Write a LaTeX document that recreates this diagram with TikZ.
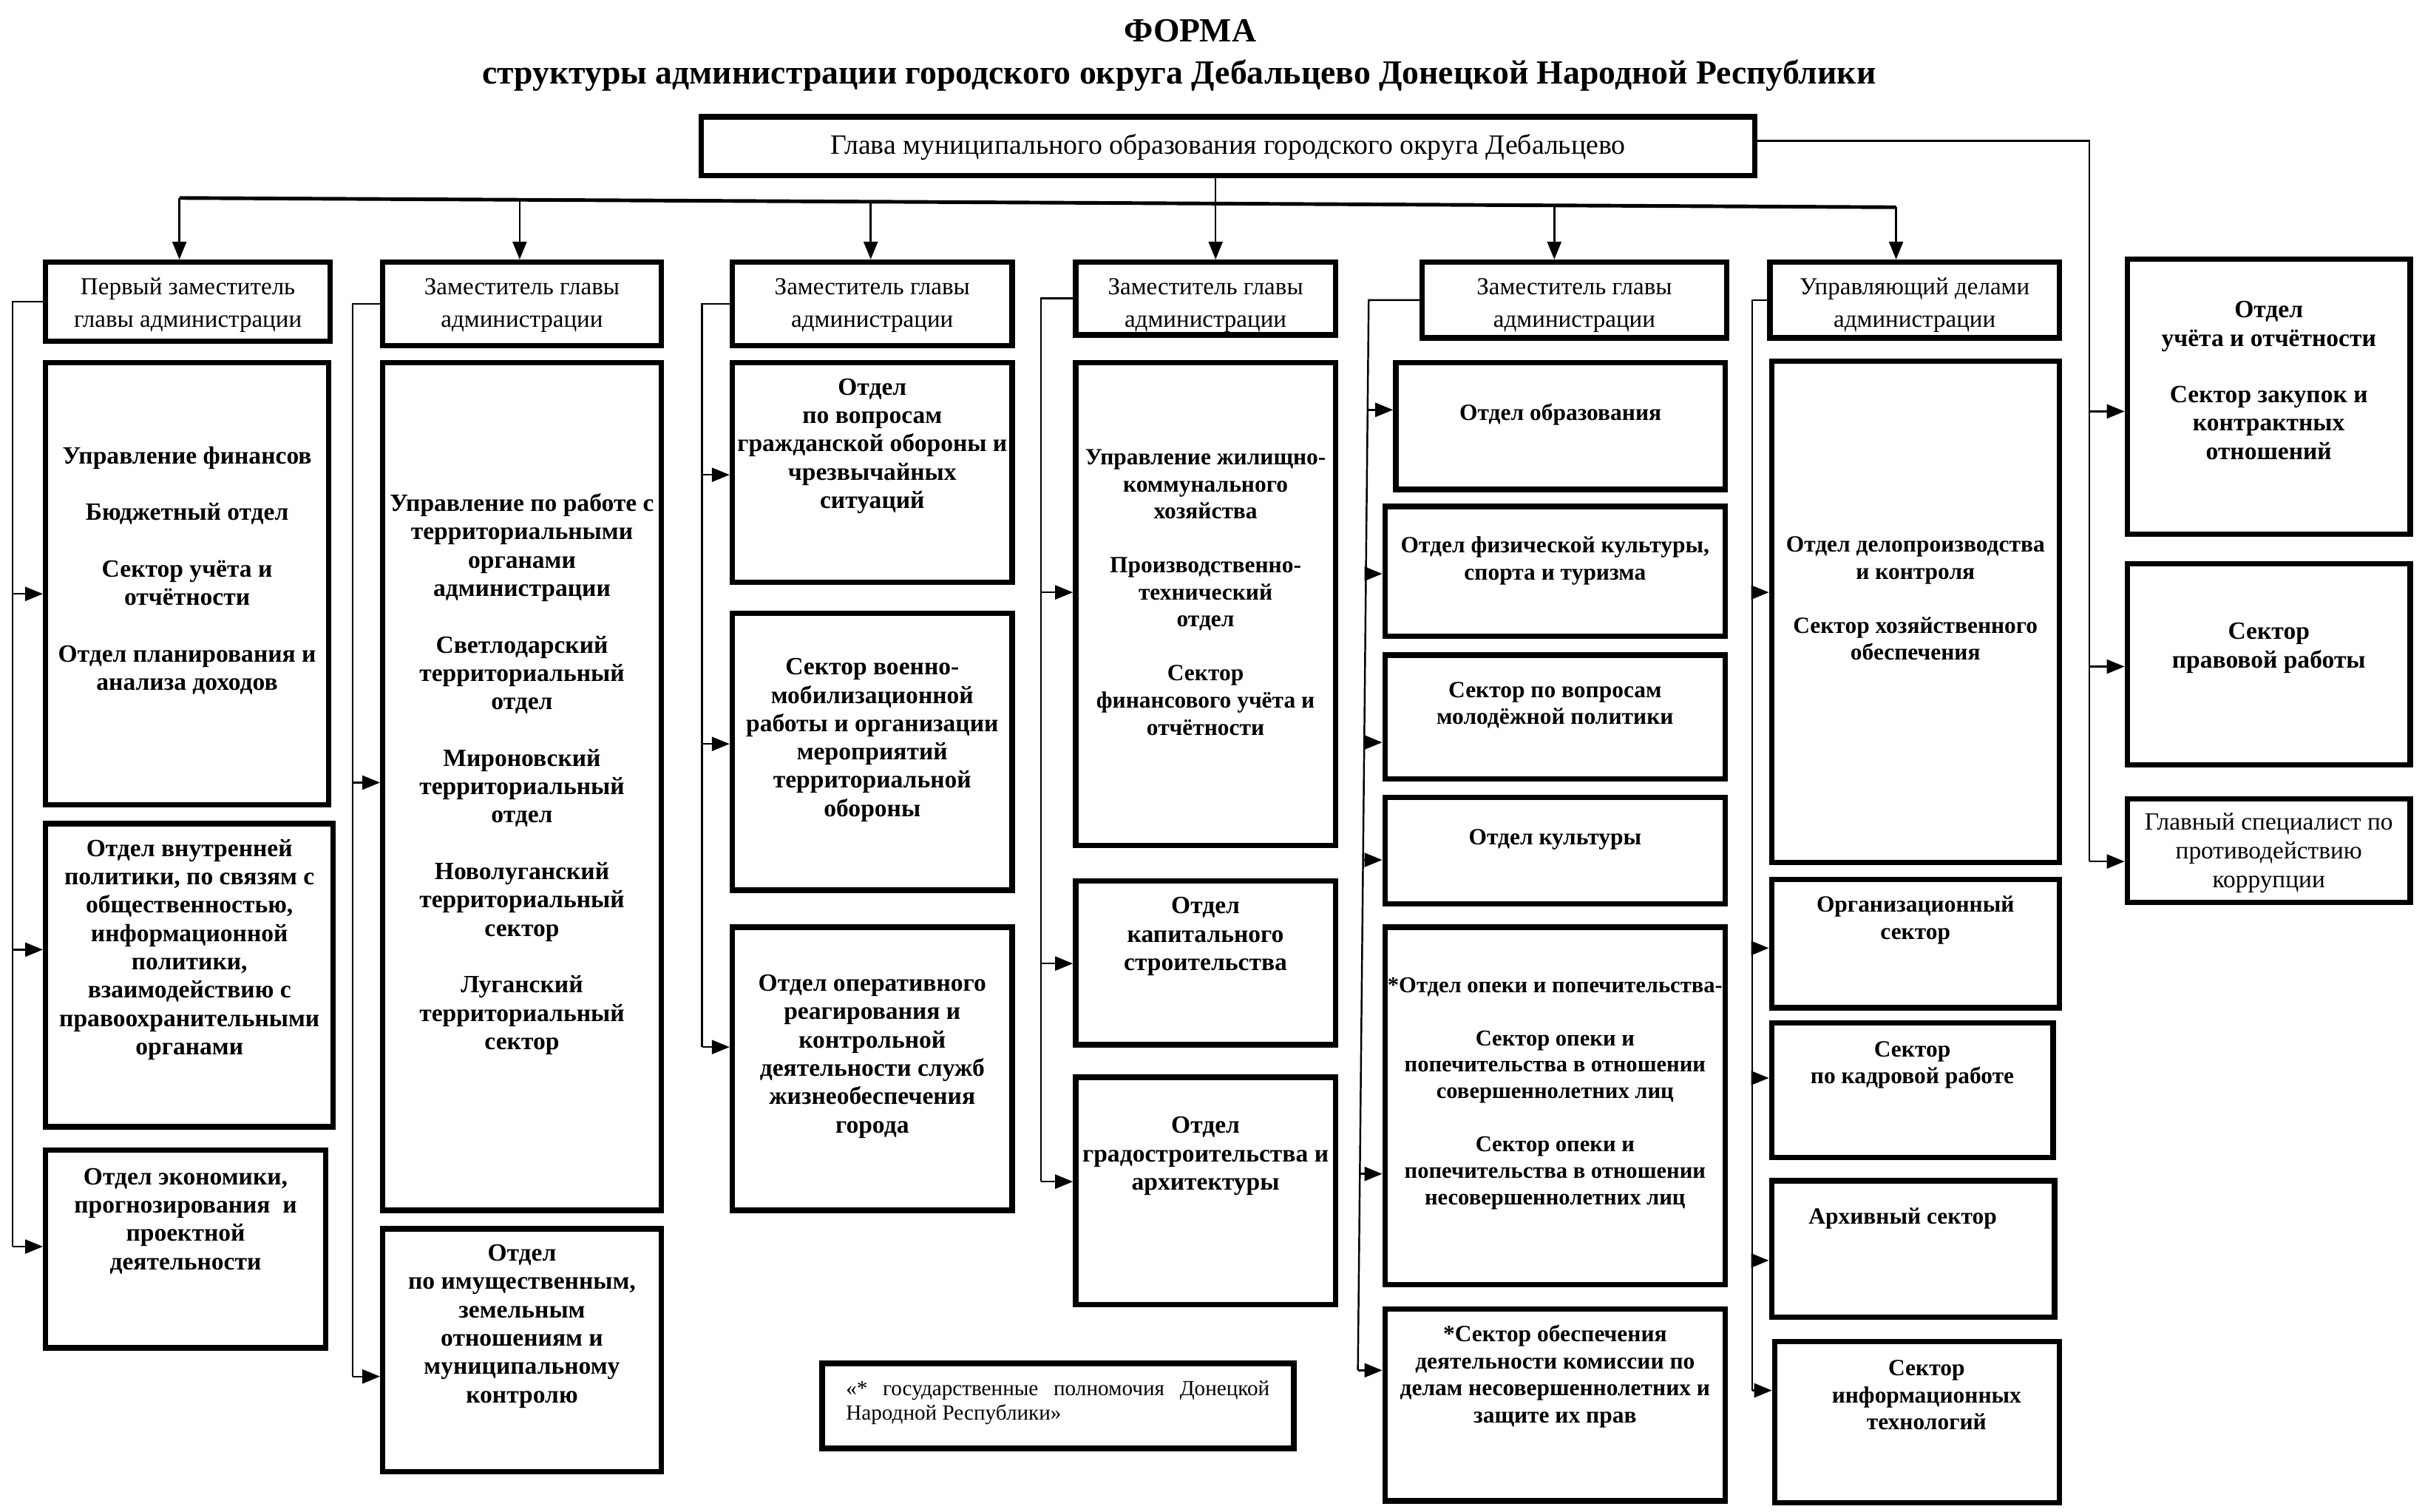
\documentclass[tikz,border=0pt]{standalone}
\usepackage{fontspec}
\setmainfont{Liberation Serif}
\usetikzlibrary{arrows.meta}
\tikzset{
  x=0.20918mm, y=-0.20918mm,
  box/.style={draw=black, line width=2.1pt, rectangle, inner sep=0pt},
  btext/.style={align=center, inner sep=0pt, font=\fontsize{9.55}{10.9}\selectfont\bfseries},
  ctext/.style={align=center, inner sep=0pt, font=\fontsize{8.95}{10.4}\selectfont\bfseries},
  dtext/.style={align=center, inner sep=0pt, font=\fontsize{8.7}{10.2}\selectfont\bfseries},
  htext/.style={align=center, inner sep=0pt, font=\fontsize{9.4}{12.5}\selectfont},
  gtext/.style={align=center, inner sep=0pt, font=\fontsize{10.75}{12.5}\selectfont},
  rtext/.style={align=center, inner sep=0pt, font=\fontsize{9.5}{11.2}\selectfont},
  ftext/.style={align=justify, inner sep=0pt, text width=57.3mm, font=\fontsize{8.3}{9.5}\selectfont},
  ttext/.style={inner sep=0pt, font=\fontsize{13}{16}\selectfont\bfseries},
  conn/.style={line width=0.7pt},
  busline/.style={line width=1.4pt},
  arr/.style={line width=0.7pt, -{Triangle[length=2.4mm,width=1.9mm]}},
}
\newcommand\orgbox[8][btext]{%
  \pgfmathsetmacro\obw{(#5-#3-3)*0.20918}%
  \pgfmathsetmacro\obh{(#6-#4-3)*0.20918}%
  \node[box, minimum width=\obw mm, minimum height=\obh mm] (#2) at ({(#3+#5)/2},{(#4+#6)/2}) {};
  \node[#1] (#2t) at ({(#3+#5)/2},#7) {#8};
}
\newcommand\feed[3]{%
  \coordinate (f#1) at (#2,#3);
  \draw[arr] (f#1) -- (f#1 -| #1.west);
}
\newcommand\gap{\\[10.9pt]}
\newcommand\gapc{\\[10.4pt]}
\newcommand\gapd{\\[10.2pt]}
\begin{document}
\begin{tikzpicture}
\fill[white] (0,0) rectangle (1568,977.6);
\useasboundingbox (0,0) rectangle (1568,977.6);

% title
\node[ttext] (title1) at (769.5,20) {ФОРМА};
\node[ttext] (title2) at (762.5,49) {структуры администрации городского округа Дебальцево Донецкой Народной Республики};

% head
\orgbox[gtext]{head}{452}{74}{1136}{115}{95}{Глава муниципального образования городского округа Дебальцево}

% deputies
\orgbox[htext]{H1}{28}{168}{215}{222}{197.5}{Первый заместитель\\главы администрации}
\orgbox[htext]{H2}{246}{168}{429}{225}{197.5}{Заместитель главы\\администрации}
\orgbox[htext]{H3}{472}{168}{656}{225}{197.5}{Заместитель главы\\администрации}
\orgbox[htext]{H4}{694}{168}{865}{218}{197.5}{Заместитель главы\\администрации}
\orgbox[htext]{H5}{918}{168}{1118}{220}{197.5}{Заместитель главы\\администрации}
\orgbox[htext]{H6}{1143}{168}{1333}{220}{197.5}{Управляющий делами\\администрации}

% column 1
\orgbox{B1a}{28}{233}{214}{522}{369}{Управление финансов\gap Бюджетный отдел\gap Сектор учёта и\\отчётности\gap Отдел планирования и\\анализа доходов}
\orgbox{B1b}{28}{531}{217}{730}{614}{Отдел внутренней\\политики, по связям с\\общественностью,\\информационной\\политики,\\взаимодействию с\\правоохранительными\\органами}
\orgbox{B1c}{28}{742}{212}{873}{789.5}{Отдел экономики,\\прогнозирования\ \ и\\проектной\\деятельности}

% column 2
\orgbox{B2a}{246}{233}{429}{784}{500.5}{Управление по работе с\\территориальными\\органами\\администрации\gap Светлодарский\\территориальный\\отдел\gap Мироновский\\территориальный\\отдел\gap Новолуганский\\территориальный\\сектор\gap Луганский\\территориальный\\сектор}
\orgbox{B2b}{246}{793}{429}{953}{857.5}{Отдел\\по имущественным,\\земельным\\отношениям и\\муниципальному\\контролю}

% column 3
\orgbox{B3a}{472}{233}{656}{378}{288.5}{Отдел\\по вопросам\\гражданской обороны и\\чрезвычайных\\ситуаций}
\orgbox{B3b}{472}{395}{656}{577}{478.5}{Сектор военно-\\мобилизационной\\работы и организации\\мероприятий\\территориальной\\обороны}
\orgbox{B3c}{472}{598}{656}{784}{683}{Отдел оперативного\\реагирования и\\контрольной\\деятельности служб\\жизнеобеспечения\\города}
\orgbox[ftext]{foot}{530}{880}{838}{938}{907}{«* государственные полномочия Донецкой\linebreak Народной Республики»}

% column 4
\orgbox[ctext]{B4a}{694}{233}{865}{548}{383}{Управление жилищно-\\коммунального\\хозяйства\gapc Производственно-\\технический\\отдел\gapc Сектор\\финансового учёта и\\отчётности}
\orgbox{B4b}{694}{568}{865}{677}{605.5}{Отдел\\капитального\\строительства}
\orgbox{B4c}{694}{695}{865}{845}{747.5}{Отдел\\градостроительства и\\архитектуры}

% column 5
\orgbox[ctext]{B5a}{901}{233}{1117}{318}{268}{Отдел образования}
\orgbox[ctext]{B5b}{894}{326}{1117}{413}{362.5}{Отдел физической культуры,\\спорта и туризма}
\orgbox[ctext]{B5c}{894}{422}{1117}{505}{456}{Сектор по вопросам\\молодёжной политики}
\orgbox[ctext]{B5d}{894}{514}{1117}{586}{543}{Отдел культуры}
\orgbox[dtext]{B5e}{894}{598}{1117}{832}{707}{*Отдел опеки и попечительства-\gapd Сектор опеки и\\попечительства в отношении\\совершеннолетних лиц\gapd Сектор опеки и\\попечительства в отношении\\несовершеннолетних лиц}
\orgbox[ctext]{B5f}{894}{845}{1117}{972}{890}{*Сектор обеспечения\\деятельности комиссии по\\делам несовершеннолетних и\\защите их прав}

% column 6
\orgbox[ctext]{B6a}{1144}{232}{1333}{559}{387}{Отдел делопроизводства\\и контроля\gapc Сектор хозяйственного\\обеспечения}
\orgbox[ctext]{B6b}{1144}{567}{1333}{653}{595}{Организационный\\сектор}
\orgbox[ctext]{B6c}{1144}{660}{1329}{750}{688.5}{Сектор\\по кадровой работе}
\orgbox[ctext,xshift=-1.4mm]{B6d}{1144}{762}{1330}{853}{788}{Архивный сектор}
\orgbox[ctext,xshift=1.3mm]{B6e}{1146}{866}{1333}{973}{902}{Сектор\\информационных\\технологий}

% right column
\orgbox{R1}{1374}{166}{1560}{347}{246}{Отдел\\учёта и отчётности\gap Сектор закупок и\\контрактных\\отношений}
\orgbox{R2}{1374}{363}{1560}{496}{419}{Сектор\\правовой работы}
\orgbox[rtext]{R3}{1374}{515}{1560}{585}{551.5}{Главный специалист по\\противодействию\\коррупции}

% top bus
\coordinate (d1) at (116,128);
\coordinate (d2) at (336,129.2);
\coordinate (d3) at (563,130.4);
\coordinate (d4) at (786,131.6);
\coordinate (d5) at (1005,132.8);
\coordinate (d6) at (1226,134);
\draw[busline] (d1) -- (d6);
\draw[arr] (d4 |- head.south) -- (d4 |- H4.north);
\draw[arr] (d1) -- (d1 |- H1.north);
\draw[arr] (d2) -- (d2 |- H2.north);
\draw[arr] (d3) -- (d3 |- H3.north);
\draw[arr] (d5) -- (d5 |- H5.north);
\draw[arr] (d6) -- (d6 |- H6.north);

% right branch
\coordinate (r0) at (1351,91);
\feed{R1}{1351}{266}
\feed{R2}{1351}{431}
\feed{R3}{1351}{557}
\draw[conn] (r0 -| head.east) -- (r0) -- (fR3);

% column 1 branch
\feed{B1a}{8}{384}
\feed{B1b}{8}{614}
\feed{B1c}{8}{806}
\draw[conn] (H1.west) -- (H1.west -| fB1a) -- (fB1c);

% column 2 branch
\feed{B2a}{228}{506}
\feed{B2b}{228}{890}
\draw[conn] (H2.west) -- (H2.west -| fB2a) -- (fB2b);

% column 3 branch
\feed{B3a}{454}{307}
\feed{B3b}{454}{481}
\feed{B3c}{454}{677}
\draw[conn] (H3.west) -- (H3.west -| fB3a) -- (fB3c);

% column 4 branch
\feed{B4a}{673}{383}
\feed{B4b}{673}{623}
\feed{B4c}{673}{764}
\draw[conn] (H4.west) -- (H4.west -| fB4a) -- (fB4c);

% column 5 branch (slightly slanted trunk)
\coordinate (k5) at (885,194);
\feed{B5a}{884.3}{265}
\feed{B5b}{883.2}{371}
\feed{B5c}{882.1}{480}
\feed{B5d}{881.3}{556}
\feed{B5e}{879.3}{759}
\feed{B5f}{878}{886}
\draw[conn] (H5.west) -- (k5) -- (fB5f);

% column 6 branch
\feed{B6a}{1133}{383}
\feed{B6b}{1133}{613}
\feed{B6c}{1133}{697}
\feed{B6d}{1133}{815}
\feed{B6e}{1133}{899}
\draw[conn] (H6.west) -- (H6.west -| fB6a) -- (fB6e);
\end{tikzpicture}
\end{document}
